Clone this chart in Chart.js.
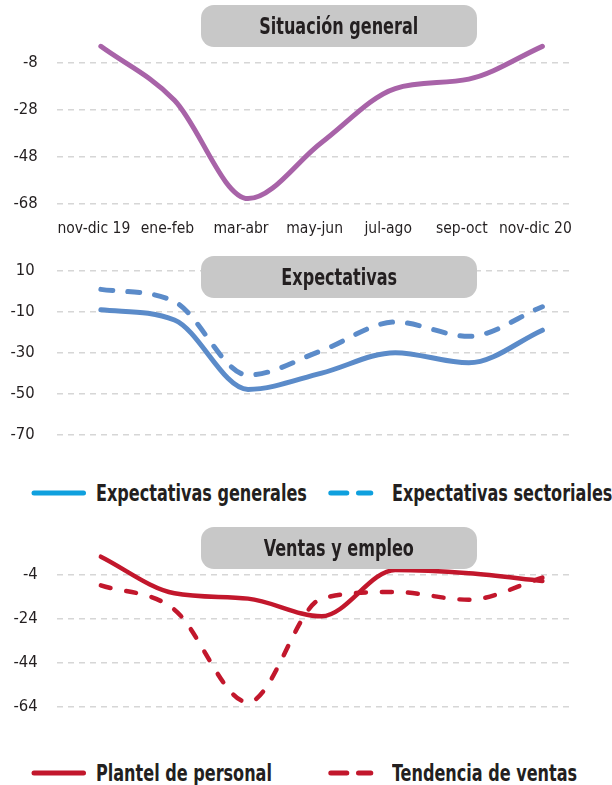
<!DOCTYPE html>
<html>
<head>
<meta charset="utf-8">
<script src="https://cdn.jsdelivr.net/npm/chart.js@4.4.1/dist/chart.umd.min.js"></script>
<style>
  body { margin: 0; width: 612px; height: 785px; position: relative; background: #fff; overflow: hidden;
         font-family: "Liberation Sans Narrow", "DejaVu Sans Condensed", sans-serif; color: #231f20; }
  canvas { position: absolute; left: 0; }
  .titulo { position: absolute; left: 201px; width: 276px; height: 42px; background: #c8c8c8; border-radius: 13px;
            font-weight: bold; font-size: 23.5px; line-height: 42px; text-align: center; z-index: 2; white-space: nowrap; }
  .titulo span { display: inline-block; transform: scaleX(0.76); }
  .ley { position: absolute; font-weight: bold; font-size: 23.5px; line-height: 26px; white-space: nowrap;
         transform: scaleX(0.76); transform-origin: left center; }
  svg { position: absolute; }
</style>
</head>
<body>
<canvas id="situacion" width="612" height="245" style="top:0px"></canvas>
<canvas id="expectativas" width="612" height="190" style="top:250px"></canvas>
<canvas id="ventas" width="612" height="190" style="top:530px"></canvas>

<div class="titulo" style="top:5px"><span>Situación general</span></div>
<div class="titulo" style="top:256px"><span>Expectativas</span></div>
<div class="titulo" style="top:527px"><span>Ventas y empleo</span></div>

<!-- leyenda expectativas -->
<svg style="left:29px;top:488px" width="60" height="10"><line x1="5" y1="5" x2="54.5" y2="5" stroke="#0fa0de" stroke-width="5" stroke-linecap="round"/></svg>
<div class="ley" style="left:96px;top:480px">Expectativas generales</div>
<svg style="left:326px;top:488px" width="50" height="10"><line x1="4.8" y1="5" x2="44.8" y2="5" stroke="#0fa0de" stroke-width="5" stroke-linecap="round" stroke-dasharray="16 11.7"/></svg>
<div class="ley" style="left:392px;top:480px">Expectativas sectoriales</div>

<!-- leyenda ventas -->
<svg style="left:29px;top:768px" width="60" height="10"><line x1="5" y1="5" x2="54.5" y2="5" stroke="#c2172c" stroke-width="5" stroke-linecap="round"/></svg>
<div class="ley" style="left:96px;top:760px">Plantel de personal</div>
<svg style="left:326px;top:768px" width="50" height="10"><line x1="4.8" y1="5" x2="44.8" y2="5" stroke="#c2172c" stroke-width="5" stroke-linecap="round" stroke-dasharray="16 11.7"/></svg>
<div class="ley" style="left:392px;top:760px">Tendencia de ventas</div>

<script>
const periodos = ['nov-dic 19', 'ene-feb', 'mar-abr', 'may-jun', 'jul-ago', 'sep-oct', 'nov-dic 20'];

const situacionGeneral = [-1, -24, -66, -42, -19, -15, -1];
const expGenerales = [-9, -14, -48, -40, -30, -35, -19];
const expSectoriales = [1, -5, -41, -29, -15, -22, -7.5];
const plantelPersonal = [4, -12.6, -15, -23, -2, -3.5, -7];
const tendenciaVentas = [-9, -20, -62, -15, -12, -15.5, -5.5];

const ticksSituacion = [-68, -48, -28, -8];
const ticksExpectativas = [-70, -50, -30, -10, 10];
const ticksVentas = [-64, -44, -24, -4];

const textColor = '#231f20';
const fontName = '"Liberation Sans Narrow", "DejaVu Sans Condensed", sans-serif';

function puntos(values) {
    return values.map((v, i) => ({ x: i, y: v }));
}

function serie(values, color, dash, width) {
    return {
        data: puntos(values),
        borderColor: color,
        borderWidth: width,
        borderDash: dash,
        borderCapStyle: 'round',
        borderJoinStyle: 'round',
        pointRadius: 0,
        cubicInterpolationMode: 'monotone',
        fill: false,
        clip: false
    };
}

function grafico(id, datasets, yTicks, yMin, yMax, padding, showX, labelPad) {
    const ctx = document.getElementById(id).getContext('2d');
    return new Chart(ctx, {
        type: 'line',
        data: { datasets: datasets },
        options: {
            responsive: false,
            animation: false,
            layout: { padding: padding },
            plugins: { legend: { display: false }, tooltip: { enabled: false } },
            scales: {
                x: {
                    type: 'linear',
                    min: -0.6,
                    max: 6.42,
                    display: showX,
                    grid: { display: false },
                    border: { display: false },
                    afterBuildTicks: axis => { axis.ticks = periodos.map((p, i) => ({ value: i })); },
                    afterFit: axis => { axis.height = showX ? 41.7 : 0; },
                    ticks: {
                        callback: v => periodos[v],
                        labelOffset: -7,
                        padding: 8,
                        maxRotation: 0,
                        autoSkip: false,
                        color: textColor,
                        font: { family: fontName, size: 15.5 }
                    }
                },
                y: {
                    min: yMin,
                    max: yMax,
                    afterBuildTicks: axis => { axis.ticks = yTicks.map(v => ({ value: v })); },
                    // fixed axis width; tick padding must not push the chart area in
                    afterFit: axis => { axis.width = 56.7; axis.paddingTop = 0; axis.paddingBottom = 0; },
                    grid: { color: '#d6d6d6', lineWidth: 1.5, drawTicks: false },
                    border: { display: false, dash: [6, 5] },
                    ticks: {
                        padding: labelPad,
                        color: textColor,
                        font: { family: fontName, size: 16.5 }
                    }
                }
            }
        }
    });
}

grafico('situacion',
    [serie(situacionGeneral, '#a863a8', [], 5)],
    ticksSituacion, -68, 0, { top: 44, bottom: 0, left: 0, right: 38.7 }, true, 19);

grafico('expectativas',
    [serie(expGenerales, '#5b8bc9', [], 5), serie(expSectoriales, '#5b8bc9', [12, 15], 5)],
    ticksExpectativas, -70, 10, { top: 21, bottom: 5.7, left: 0, right: 38.7 }, false, 22);

grafico('ventas',
    [serie(plantelPersonal, '#c2172c', [], 4.5), serie(tendenciaVentas, '#c2172c', [10, 16], 4.5)],
    ticksVentas, -64, 6, { top: 22.3, bottom: 13.3, left: 0, right: 38.7 }, false, 19);
</script>
</body>
</html>
